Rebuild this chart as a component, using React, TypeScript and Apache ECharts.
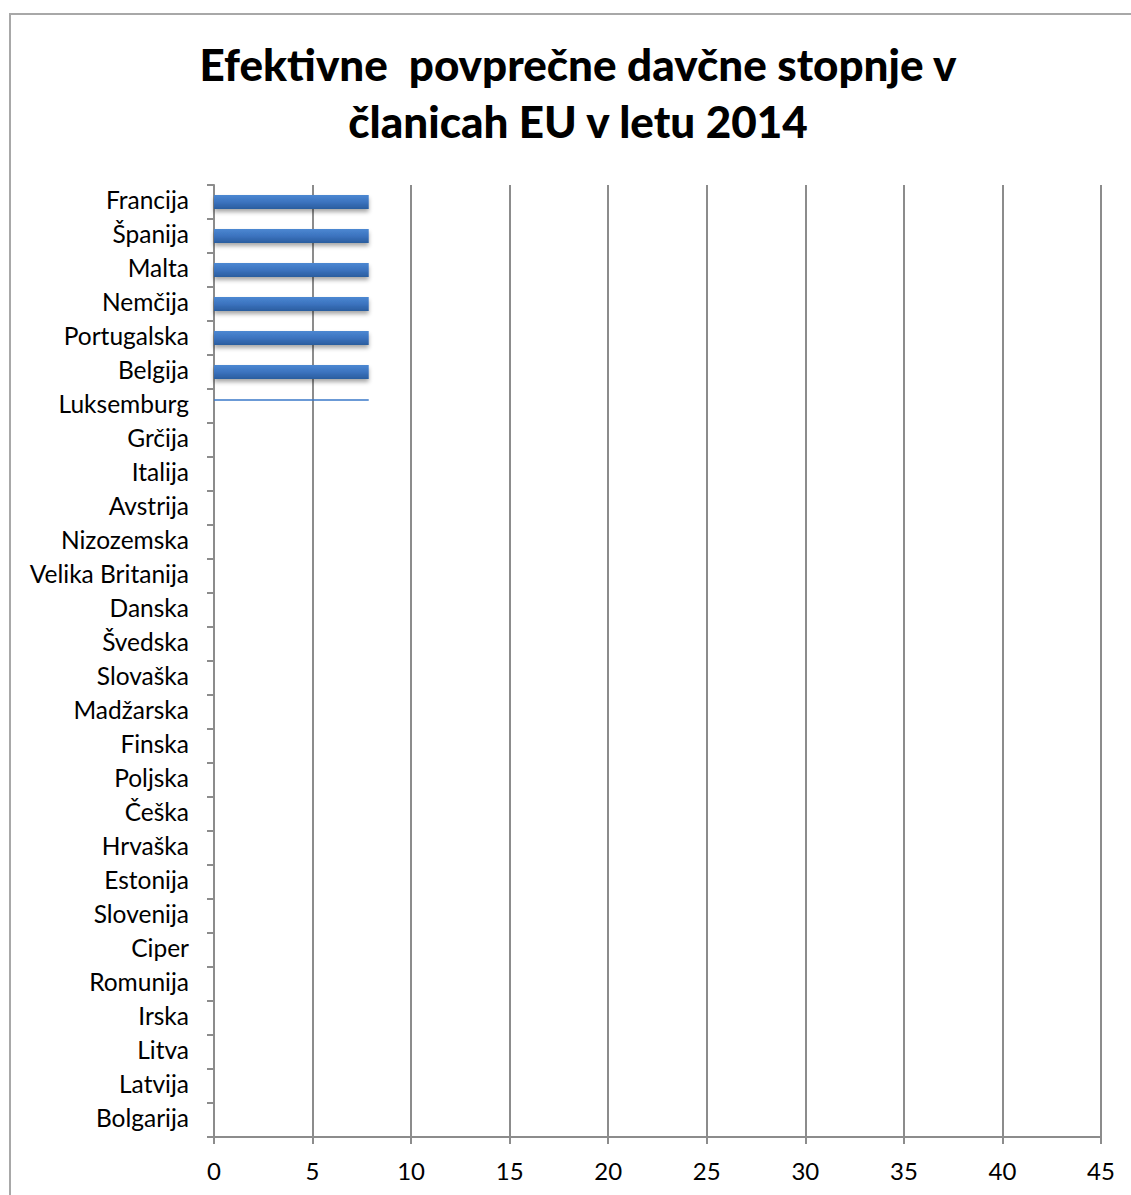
import React, { useEffect, useRef } from "react";
import * as echarts from "echarts";

const categories = [
  "Francija", "Španija", "Malta", "Nemčija", "Portugalska", "Belgija", "Luksemburg",
  "Grčija", "Italija", "Avstrija", "Nizozemska", "Velika Britanija", "Danska", "Švedska",
  "Slovaška", "Madžarska", "Finska", "Poljska", "Češka", "Hrvaška", "Estonija",
  "Slovenija", "Ciper", "Romunija", "Irska", "Litva", "Latvija", "Bolgarija",
];
const values: (number | null)[] = [
  7.85, 7.85, 7.85, 7.85, 7.85, 7.85, null,
  null, null, null, null, null, null, null,
  null, null, null, null, null, null, null,
  null, null, null, null, null, null, null,
];
// thin line drawn at Luksemburg
const thinLine: [number, number][] = [[7.85, 6]];
const xTicks = { min: 0, max: 45, interval: 5 };
const titleText = "Efektivne  povprečne davčne stopnje v\nčlanicah EU v letu 2014";

export default function App() {
  const ref = useRef<HTMLDivElement>(null);
  useEffect(() => {
    if (!ref.current) return;
    const chart = echarts.init(ref.current, null, { renderer: "svg" });
    const gray = "#8c8c8c";
    chart.setOption({
      animation: false,
      backgroundColor: "#ffffff",
      textStyle: { fontFamily: "Lato" },
      title: {
        text: titleText,
        left: 573,
        top: 30,
        textAlign: "center",
        textStyle: {
          fontFamily: "Lato",
          fontWeight: 900,
          fontSize: 44,
          lineHeight: 57,
          color: "#000000",
        },
      },
      graphic: [
        {
          type: "rect",
          shape: { x: 10, y: 14, width: 1160, height: 1220 },
          style: { fill: "none", stroke: "#a8a8a8", lineWidth: 2 },
          silent: true,
        },
      ],
      grid: { left: 214, right: 30, top: 185, bottom: 58, containLabel: false },
      xAxis: {
        type: "value",
        min: xTicks.min,
        max: xTicks.max,
        interval: xTicks.interval,
        axisLine: { show: true, lineStyle: { color: gray, width: 2 } },
        axisTick: { show: true, length: 7, lineStyle: { color: gray, width: 2 } },
        axisLabel: { fontSize: 24, color: "#000", margin: 21, fontFamily: "Lato" },
        splitLine: { show: true, lineStyle: { color: gray, width: 2 } },
      },
      yAxis: {
        type: "category",
        data: categories,
        inverse: true,
        boundaryGap: true,
        axisLine: { show: true, lineStyle: { color: gray, width: 2 } },
        axisTick: { show: true, length: 7, alignWithLabel: false, lineStyle: { color: gray, width: 2 } },
        axisLabel: {
          fontSize: 24.5,
          color: "#000",
          margin: 25,
          fontFamily: "Lato",
          interval: 0,
          verticalAlign: "bottom",
          lineHeight: 6,
        },
        splitLine: { show: false },
      },
      series: [
        {
          type: "bar",
          data: values,
          barWidth: 14,
          itemStyle: {
            color: new echarts.graphic.LinearGradient(0, 0, 0, 1, [
              { offset: 0, color: "#4c88d2" },
              { offset: 0.5, color: "#3b73bf" },
              { offset: 1, color: "#2b5d9e" },
            ]),
            shadowColor: "rgba(0,0,0,0.35)",
            shadowBlur: 4,
            shadowOffsetY: 3,
          },
        },
        {
          type: "custom",
          data: thinLine,
          encode: { x: 0, y: 1 },
          renderItem: (params: any, api: any) => {
            const v = api.value(0);
            const idx = api.value(1);
            const p0 = api.coord([0, idx]);
            const p1 = api.coord([v, idx]);
            const h = api.size([0, 1])[1];
            const y = p0[1] - h * 0.18;
            return {
              type: "line",
              shape: { x1: p0[0], y1: y, x2: p1[0], y2: y },
              style: { stroke: "#3a78c8", lineWidth: 1.5 },
            };
          },
        },
      ],
    });
    return () => chart.dispose();
  }, []);
  return (
    <div
      ref={ref}
      style={{ position: "fixed", left: 0, top: 0, width: 1131, height: 1195 }}
    />
  );
}
